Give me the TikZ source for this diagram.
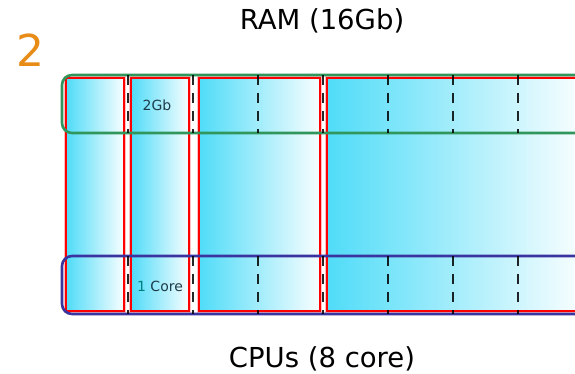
\documentclass[tikz,border=0pt]{standalone}
\usepackage{fontspec}
\setmainfont{DejaVu Sans}
\usepackage{tikz}
\usetikzlibrary{positioning}

\definecolor{boxcyan}{RGB}{80,220,248}
\definecolor{ramgreen}{RGB}{48,150,92}
\definecolor{cpublue}{RGB}{58,52,160}
\definecolor{numorange}{RGB}{232,140,24}
\definecolor{labelslate}{RGB}{30,60,72}

\begin{document}
\begin{tikzpicture}[
  x=1pt, y=-1pt,
  slot/.style={draw=red, line width=2.3pt, inner sep=0pt, outer sep=0pt,
    left color=boxcyan, right color=white!96!boxcyan,
    preaction={draw=red!25, line width=4.6pt}},
  band/.style={rounded corners=10pt, line width=2.6pt, inner sep=0pt, minimum height=58pt, minimum width=578pt},
  divider/.style={black, opacity=0.85, line width=2.9pt, dash pattern=on 10pt off 8pt},
  title/.style={font=\fontsize{27.5}{32}\selectfont}
]
\useasboundingbox (0,0) rectangle (575,374);
\clip (0,0) rectangle (575,374);
% headings
\node[title] (ramtitle) at (322,21) {RAM (16Gb)};
\node[title] (cputitle) at (322,359) {CPUs (8 core)};
\node[font=\fontsize{44}{48}\selectfont, text=numorange] (step) at (30,50) {2};
% memory / core slots
\node[slot, minimum width=58pt, minimum height=233pt] (slota) at (95,194.5) {};
\node[slot, minimum width=58pt, minimum height=233pt] (slotb) at (160,194.5) {};
\node[slot, minimum width=121pt, minimum height=233pt] (slotc) at (259.5,194.5) {};
\node[slot, minimum width=253pt, minimum height=233pt] (slotd) at (453.5,194.5) {};
% RAM and CPU bands
\node[band, draw=ramgreen] (ramband) at (351,104) {};
\node[band, draw=cpublue] (cpuband) at (351,285) {};
% column dividers
\foreach \cx in {128,193,...,583} {
  \draw[divider] (\cx,75) -- (\cx,133);
  \draw[divider] (\cx,256) -- (\cx,314);
}
\node[font=\fontsize{14}{16}\selectfont, text=labelslate] (ramunit) at (157,105) {2Gb};
\node[font=\fontsize{14}{16}\selectfont, text=labelslate] (cpuunit) at (160,286) {\textcolor{teal}{1} Core};
\end{tikzpicture}
\end{document}
